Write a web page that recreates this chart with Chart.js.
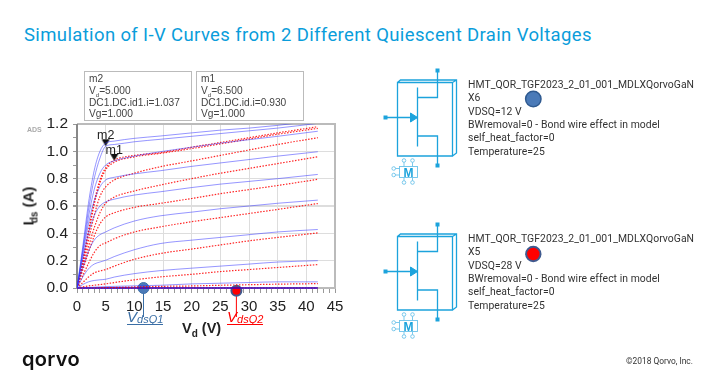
<!DOCTYPE html>
<html lang="en">
<head>
  <meta charset="UTF-8" />
  <title>Simulation of I-V Curves from 2 Different Quiescent Drain Voltages</title>
  <script src="https://cdn.jsdelivr.net/npm/chart.js"></script>
  <style>
    html, body { margin: 0; padding: 0; background: #fff; }
    #page { position: relative; width: 720px; height: 390px; overflow: hidden; font-family: 'Liberation Sans', sans-serif; }
    #page > * { position: absolute; }
    #ivChart { left: 0; top: 0; }
    h2 { margin: 0; left: 24px; top: 23px; font: 400 18.5px/24px Roboto, sans-serif; color: #0a9ddb; letter-spacing: 0.37px; white-space: nowrap; }
    .mbox { border: 1px solid #bbb; box-sizing: border-box; top: 71px; height: 50px; padding: 1px 0 0 4px; font-size: 10.2px; line-height: 11.8px; color: #444; white-space: nowrap; }
    .mbox sub { font-size: 6px; line-height: 0; }
    .model { left: 468px; font: 400 10.4px/13.35px Roboto, sans-serif; color: #333; white-space: nowrap; letter-spacing: 0.05px; }
    .axis-title { font-weight: 700; font-size: 15px; color: #222; white-space: nowrap; }
    .axis-title sub { font-size: 10px; line-height: 0; }
    .q-label { font-style: italic; font-size: 15px; white-space: nowrap; line-height: 15px; padding-bottom: 0; border-bottom: 1px solid; }
    .q-label sub { font-size: 11px; line-height: 0; vertical-align: -1px; }
    #symbols { left: 0; top: 0; }
  </style>
</head>
<body>
  <div id="page">
    <h2>Simulation of I-V Curves from 2 Different Quiescent Drain Voltages</h2>
    <canvas id="ivChart" width="360" height="345"></canvas>

    <div class="mbox" style="left:84px;width:108px">m2<br>V<sub>d</sub>=5.000<br>DC1.DC.id1.i=1.037<br>Vg=1.000</div>
    <div class="mbox" style="left:196px;width:108px">m1<br>V<sub>d</sub>=6.500<br>DC1.DC.id.i=0.930<br>Vg=1.000</div>
    <div style="left:27px;top:126px;font-size:7px;font-weight:700;color:#aaa">ADS</div>

    <div class="axis-title" style="left:28px;top:206px;transform:translate(-50%,-50%) rotate(-90deg)">I<sub style="margin-left:-2px">ds</sub> (A)</div>
    <div class="axis-title" style="left:182px;top:320px;font-size:14.5px">V<sub>d</sub> (V)</div>
    <div class="q-label" style="left:127px;top:309px;color:#3a6ea5">V<sub>dsQ1</sub></div>
    <div class="q-label" style="left:227px;top:309px;color:#f00">V<sub>dsQ2</sub></div>

    <svg id="symbols" width="720" height="390" style="pointer-events:none">
      <defs>
        <g id="fet">
          <g fill="none" stroke="#1ca3dc" stroke-width="1.3">
            <path d="M397.5 82.5H452.5V156H397.5ZM397.5 82.5L400.5 80H456.5V153L452.5 156M452.5 82.5L456.5 80" />
            <path d="M417.5 87.5V146.5M417.5 97.5H437.5V70.5M417.5 136H437.5V165.5M385.5 117.5H417" />
          </g>
          <path d="M410.5 113L417.5 117.5L410.5 122Z" fill="#1ca3dc" stroke="#1ca3dc" />
          <rect x="383.5" y="115.5" width="4" height="4" fill="#1ca3dc" />
          <rect x="435.5" y="68.5" width="4" height="4" fill="#1ca3dc" />
          <rect x="435.5" y="163.5" width="4" height="4" fill="#1ca3dc" />
          <g fill="none" stroke="#6cc3ea" stroke-width="0.9">
            <rect x="399.5" y="166.5" width="18" height="11" />
            <circle cx="404" cy="160.5" r="1.8" /><circle cx="412.5" cy="160.5" r="1.8" />
            <circle cx="404" cy="182.5" r="1.8" /><circle cx="412.5" cy="182.5" r="1.8" />
            <circle cx="393.7" cy="168.5" r="1.8" /><circle cx="393.7" cy="175" r="1.8" />
            <path d="M404 162.3V166.5M412.5 162.3V166.5M404 177.5V180.7M412.5 177.5V180.7M395.5 168.5H399.5M395.5 175H399.5" />
          </g>
          <text x="408.5" y="176.8" text-anchor="middle" font-family="Liberation Sans" font-weight="700" font-size="12" fill="#1ca3dc">M</text>
        </g>
      </defs>
      <use href="#fet" />
      <use href="#fet" y="154" />
      <circle cx="533.3" cy="99" r="7.7" fill="#4a7ab8" stroke="#2f5a90" stroke-width="1.5" />
      <circle cx="533.3" cy="254" r="7.2" fill="#f00" stroke="#3f5a8f" stroke-width="2" />
    </svg>

    <div class="model" style="top:78px">HMT_QOR_TGF2023_2_01_001_MDLXQorvoGaN<br>X6<br>VDSQ=12 V<br>BWremoval=0 - Bond wire effect in model<br>self_heat_factor=0<br>Temperature=25</div>
    <div class="model" style="top:232px">HMT_QOR_TGF2023_2_01_001_MDLXQorvoGaN<br>X5<br>VDSQ=28 V<br>BWremoval=0 - Bond wire effect in model<br>self_heat_factor=0<br>Temperature=25</div>

    <div style="left:22px;top:345px;font:600 20px/28px Inter,sans-serif;color:#111;letter-spacing:0.3px">qorvo</div>
    <div style="left:626px;top:355px;font:400 8.4px/12px Roboto,sans-serif;color:#333;white-space:nowrap">©2018 Qorvo, Inc.</div>
  </div>

  <script>
    // Vd sweep shared by every curve
    const vd = [0, 1, 2, 3, 4, 5, 6.5, 10, 14.5, 20, 25, 30, 35, 42];

    // VDSQ = 12 V (blue)
    const blue1 = [0, 0.30, 0.62, 0.86, 1.00, 1.06, 1.075, 1.095, 1.112, 1.135, 1.155, 1.17, 1.19, 1.225];
    const blue2 = [0, 0.28, 0.57, 0.80, 0.95, 1.037, 1.05, 1.07, 1.088, 1.11, 1.13, 1.15, 1.17, 1.205];
    const blue3 = [0, 0.26, 0.52, 0.72, 0.84, 0.90, 0.93, 0.965, 0.997, 1.03, 1.06, 1.085, 1.11, 1.147];
    const blue4 = [0, 0.24, 0.47, 0.64, 0.74, 0.79, 0.81, 0.835, 0.858, 0.89, 0.915, 0.94, 0.965, 0.997];
    const blue5 = [0, 0.21, 0.40, 0.53, 0.60, 0.63, 0.65, 0.68, 0.704, 0.735, 0.76, 0.78, 0.80, 0.831];
    const blue6 = [0, 0.15, 0.27, 0.35, 0.39, 0.41, 0.44, 0.49, 0.528, 0.555, 0.58, 0.60, 0.62, 0.643];
    const blue7 = [0, 0.08, 0.14, 0.175, 0.19, 0.203, 0.23, 0.28, 0.325, 0.35, 0.37, 0.39, 0.41, 0.428];
    const blue8 = [0, 0.025, 0.045, 0.055, 0.06, 0.064, 0.08, 0.105, 0.127, 0.145, 0.16, 0.175, 0.19, 0.2];
    const blue9 = [0, 0.002, 0.004, 0.006, 0.008, 0.01, 0.012, 0.016, 0.02, 0.03, 0.035, 0.04, 0.045, 0.045];
    const blue10 = [0, 0, 0, 0, 0, 0, 0, 0, 0, 0, 0, 0, 0, 0];

    // VDSQ = 28 V (red)
    const red1 = [0, 0.20, 0.42, 0.63, 0.79, 0.88, 0.935, 0.97, 0.99, 1.03, 1.065, 1.10, 1.135, 1.18];
    const red2 = [0, 0.19, 0.40, 0.61, 0.77, 0.865, 0.92, 0.96, 0.985, 1.02, 1.055, 1.09, 1.125, 1.168];
    const red3 = [0, 0.17, 0.35, 0.53, 0.67, 0.74, 0.79, 0.84, 0.887, 0.93, 0.97, 1.01, 1.05, 1.10];
    const red4 = [0, 0.15, 0.30, 0.44, 0.55, 0.62, 0.665, 0.71, 0.753, 0.80, 0.84, 0.875, 0.91, 0.96];
    const red5 = [0, 0.13, 0.26, 0.38, 0.47, 0.52, 0.55, 0.59, 0.619, 0.655, 0.69, 0.72, 0.75, 0.795];
    const red6 = [0, 0.09, 0.18, 0.26, 0.31, 0.33, 0.36, 0.41, 0.447, 0.485, 0.515, 0.545, 0.575, 0.618];
    const red7 = [0, 0.04, 0.08, 0.11, 0.125, 0.135, 0.16, 0.21, 0.252, 0.285, 0.315, 0.345, 0.37, 0.403];
    const red8 = [0, 0.008, 0.015, 0.02, 0.025, 0.03, 0.04, 0.06, 0.081, 0.10, 0.12, 0.135, 0.15, 0.171];
    const red9 = [0, 0, 0, 0.001, 0.002, 0.003, 0.004, 0.008, 0.012, 0.015, 0.02, 0.024, 0.028, 0.032];
    const red10 = [0, 0, 0, 0, 0, 0, 0, 0, 0, 0, 0, 0, 0, 0];

    // markers m2, m1
    const markerNames = ['m2', 'm1'];
    const markerVd = [5, 6.5];
    const markerId = [1.037, 0.93];

    // quiescent points on the Vd axis
    const quiescentVd = [11.6, 27.8];
    const quiescentId = [0, -0.02];

    const blueCurves = [blue1, blue2, blue3, blue4, blue5, blue6, blue7, blue8, blue9];
    const redCurves = [red1, red2, red3, red4, red5, red6, red7, red8, red9];

    const toPoints = (xs, ys) => xs.map((x, i) => ({ x: x, y: ys[i] }));

    // down triangle in the top half of the sprite, so its tip sits on the point
    const tri = document.createElement('canvas');
    tri.width = 10;
    tri.height = 16;
    const triCtx = tri.getContext('2d');
    triCtx.fillStyle = '#111';
    triCtx.beginPath();
    triCtx.moveTo(1, 1);
    triCtx.lineTo(9, 1);
    triCtx.lineTo(5, 8);
    triCtx.closePath();
    triCtx.fill();

    const qColors = ['#3a6ea5', '#f00'];

    // frame, leader lines, marker names
    const decorPlugin = {
      id: 'decor',
      beforeDatasetsDraw(chart) {
        const { ctx, chartArea: a, scales: { x, y } } = chart;
        ctx.save();
        ctx.strokeStyle = '#bbb';
        ctx.lineWidth = 2;
        ctx.beginPath();
        ctx.moveTo(a.left, a.top);
        ctx.lineTo(a.right, a.top);
        ctx.lineTo(a.right, a.bottom);
        ctx.lineTo(a.left, a.bottom);
        ctx.stroke();
        ctx.strokeStyle = '#888';
        ctx.beginPath();
        ctx.moveTo(a.left, a.top);
        ctx.lineTo(a.left, a.bottom);
        ctx.stroke();
        ctx.lineWidth = 1;
        quiescentVd.forEach((v, i) => {
          ctx.strokeStyle = qColors[i];
          ctx.beginPath();
          ctx.moveTo(x.getPixelForValue(v), y.getPixelForValue(0));
          ctx.lineTo(x.getPixelForValue(v), a.bottom + 29);
          ctx.stroke();
        });
        ctx.restore();
      },
      afterDatasetsDraw(chart) {
        const { ctx, scales: { x, y } } = chart;
        ctx.save();
        ctx.font = "12.5px 'Liberation Sans'";
        ctx.fillStyle = '#222';
        ctx.textAlign = 'center';
        markerNames.forEach((name, i) => {
          ctx.fillText(name, x.getPixelForValue(markerVd[i]), y.getPixelForValue(markerId[i]) - 7);
        });
        ctx.restore();
      }
    };

    const isMajorX = v => Math.round(v) % 5 === 0;
    const isMajorY = v => Math.round(v * 10) % 2 === 0;

    new Chart(document.getElementById('ivChart').getContext('2d'), {
      type: 'line',
      data: {
        datasets: [
          ...blueCurves.map(c => ({
            data: toPoints(vd, c),
            borderColor: 'rgba(45,45,255,0.5)',
            borderWidth: 1,
            pointRadius: 0,
            cubicInterpolationMode: 'monotone'
          })),
          ...redCurves.map(c => ({
            data: toPoints(vd, c),
            borderColor: 'rgba(255,0,0,0.85)',
            borderWidth: 1.2,
            borderDash: [1.5, 1.5],
            pointRadius: 0,
            cubicInterpolationMode: 'monotone'
          })),
          {
            data: toPoints(vd, blue10),
            borderColor: '#3a00c0',
            borderWidth: 1.6,
            pointRadius: 0,
            clip: 2
          },
          {
            data: toPoints(vd, red10),
            borderColor: 'rgba(255,0,0,0.5)',
            borderWidth: 1.6,
            borderDash: [1.5, 1.5],
            pointRadius: 0,
            clip: 2
          },
          {
            data: toPoints(markerVd, markerId),
            showLine: false,
            pointStyle: tri,
            clip: false
          },
          {
            data: toPoints(quiescentVd, quiescentId),
            showLine: false,
            pointRadius: [5.5, 5],
            backgroundColor: ['#4a7ab8', '#f00'],
            borderColor: ['#3f70ab', '#3f5a8f'],
            borderWidth: [1, 2],
            clip: false
          }
        ]
      },
      plugins: [decorPlugin],
      options: {
        responsive: false,
        animation: false,
        layout: { padding: { top: 124, right: 25, bottom: 0, left: 0 } },
        plugins: { legend: { display: false }, tooltip: { enabled: false } },
        scales: {
          x: {
            type: 'linear',
            min: 0,
            max: 45,
            afterFit: s => { s.height = 57; },
            border: { display: false },
            grid: {
              color: c => isMajorX(c.tick.value) ? '#ddd' : 'rgba(0,0,0,0)',
              tickColor: '#999',
              tickLength: 5
            },
            ticks: {
              stepSize: 1,
              autoSkip: false,
              maxRotation: 0,
              padding: 5,
              color: '#222',
              font: { family: 'Liberation Sans', size: 15 },
              callback: v => isMajorX(v) ? String(v) : ''
            }
          },
          y: {
            min: 0,
            max: 1.2,
            afterFit: s => { s.width = 77; },
            border: { display: false },
            grid: {
              color: c => isMajorY(c.tick.value) ? '#ddd' : 'rgba(0,0,0,0)',
              lineWidth: c => Math.abs(c.tick.value - 0.6) < 0.01 ? 2 : 1,
              tickColor: '#999',
              tickLength: 4
            },
            ticks: {
              stepSize: 0.1,
              autoSkip: false,
              padding: 5,
              color: '#222',
              font: { family: 'Liberation Sans', size: 15.5 },
              callback: v => isMajorY(v) ? v.toFixed(1) : ''
            }
          }
        }
      }
    });
  </script>
</body>
</html>
